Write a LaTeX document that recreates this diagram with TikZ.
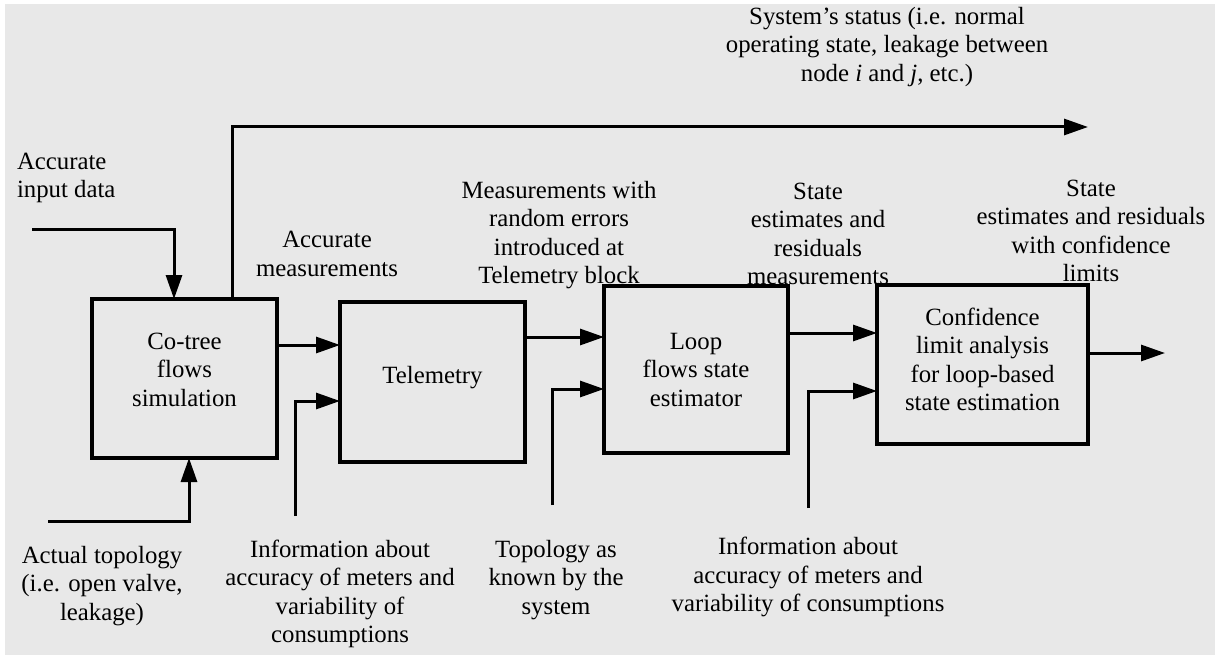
\documentclass[tikz,border=0pt]{standalone}
\usepackage{fontspec}
\setmainfont{Liberation Serif}
\usepackage{xcolor}
\usepackage{tikz}
\usetikzlibrary{arrows.meta}
\definecolor{bgfill}{HTML}{E8E8E8}
\newcommand{\df}{\fontsize{24.8}{28.5}\selectfont}

\begin{document}
\begin{tikzpicture}[x=1pt, y=-1pt, every node/.style={inner sep=0pt, outer sep=0pt, font=\df},
  blk/.style={draw=black, line width=3.6pt, align=center},
  arr/.style={line width=3pt, -{Triangle[length=24pt,width=16pt]}},
  lbl/.style={align=center}]
% ---- page
\useasboundingbox (0,0) rectangle (1215,655);
\fill[white] (0,0) rectangle (1215,655);
\fill[bgfill] (5,4) rectangle (1215,655);
% ---- blocks
\node[blk, minimum width=185pt, minimum height=159pt] (cotree) at (184.5,378.5) {Co-tree\\flows\\simulation\\[-10.5pt]};
\node[blk, minimum width=185pt, minimum height=160pt] (telem) at (432.5,382) {Telemetry\\[-14.5pt]};
\node[blk, minimum width=184pt, minimum height=167pt] (loopest) at (696,369.5) {Loop\\flows state\\estimator};
\node[blk, minimum width=211pt, minimum height=159pt] (conflim) at (982.5,364.5) {Confidence\\limit analysis\\for loop-based\\state estimation\\[-18.5pt]};
% ---- labels
\node[align=left, anchor=west] (accinput) at (17,178) {Accurate\\input data};
\node[lbl] (acttopo) at (102,586) {Actual topology\\(i.e. open valve,\\leakage)};
\node[lbl] (accmeas) at (327,254) {Accurate\\measurements};
\node[lbl] (randmeas) at (559,235) {Measurements with\\random errors\\introduced at\\Telemetry block};
\node[lbl] (stateres) at (818,234) {State\\estimates and\\residuals\\measurements};
\node[lbl] (stateconf) at (1091,231) {State\\estimates and residuals\\with confidence\\limits};
\node[lbl] (sysstatus) at (887,47) {System’s status (i.e. normal\\operating state, leakage between\\node \textit{i} and \textit{j}, etc.)};
\node[lbl] (meterinfo) at (340,594) {Information about\\accuracy of meters and\\variability of\\consumptions};
\node[lbl] (topoknown) at (556,580) {Topology as\\known by the\\system};
\node[lbl] (meterinfob) at (808,577) {Information about\\accuracy of meters and\\variability of consumptions};
% ---- free ends
\coordinate (inputin) at (32,229);
\coordinate (topoin) at (48,521);
\coordinate (meterin) at (295,516);
\coordinate (topoknin) at (552,505);
\coordinate (meterinb) at (808,508);
\coordinate (statusout) at (1088,127);
\coordinate (confout) at (1165,353);
% ---- connectors
\draw[arr] (inputin) -| (cotree.north -| 174,0);
\draw[arr] (topoin) -| (cotree.south -| 189,0);
\draw[arr] (cotree.north -| 232,0) |- (statusout);
\draw[arr] (cotree.east |- 0,345) -- (telem.west |- 0,345);
\draw[arr] (meterin) |- (telem.west |- 0,401);
\draw[arr] (telem.east |- 0,337) -- (loopest.west |- 0,337);
\draw[arr] (topoknin) |- (loopest.west |- 0,389);
\draw[arr] (loopest.east |- 0,333) -- (conflim.west |- 0,333);
\draw[arr] (meterinb) |- (conflim.west |- 0,391);
\draw[arr] (conflim.east |- 0,353) -- (confout);
\end{tikzpicture}
\end{document}
